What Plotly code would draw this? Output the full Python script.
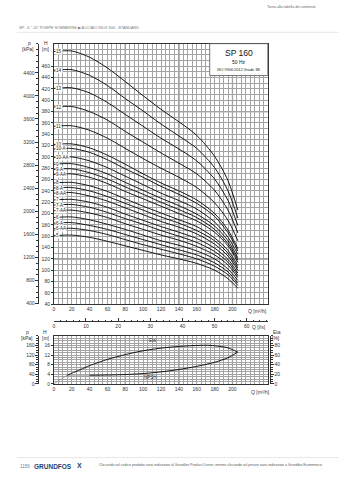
import plotly.graph_objects as go

W, H = 339, 480

# ---------------- data ----------------
q_pts = [0, 20, 40, 60, 80, 100, 120, 140, 160, 180, 195, 206]
curve_labels = ["15", "14", "13", "12", "11", "10", "10-A", "10-AA", "9", "9-A", "9-AA",
                "8", "8-A", "8-AA", "7", "7-A", "7-AA", "6", "6-A", "6-AA", "5"]
h_15 = [486, 487, 476, 457, 433, 408, 384, 362, 338, 301, 258, 206]
h_14 = [453, 454, 444, 426, 403, 381, 358, 337, 315, 281, 240, 192]
h_13 = [421, 422, 413, 396, 375, 354, 333, 314, 293, 261, 223, 179]
h_12 = [388, 389, 380, 365, 345, 326, 307, 289, 270, 241, 206, 166]
h_11 = [354, 355, 347, 333, 315, 297, 280, 264, 246, 219, 188, 152]
h_10 = [322, 323, 316, 303, 287, 270, 254, 240, 224, 200, 171, 138]
h_10a = [314, 315, 308, 295, 279, 264, 248, 234, 218, 195, 166, 134]
h_10aa = [299, 300, 293, 281, 266, 251, 236, 223, 208, 185, 158, 128]
h_9 = [287, 288, 281, 270, 255, 241, 227, 214, 199, 178, 152, 122]
h_9a = [278, 279, 272, 261, 247, 234, 220, 207, 193, 172, 147, 118]
h_9aa = [269, 270, 264, 253, 239, 226, 213, 200, 187, 167, 143, 114]
h_8 = [254, 255, 249, 239, 226, 213, 201, 189, 177, 157, 135, 108]
h_8a = [245, 246, 240, 230, 218, 206, 194, 183, 170, 152, 130, 104]
h_8aa = [236, 237, 231, 222, 210, 198, 186, 176, 164, 146, 125, 100]
h_7 = [224, 225, 220, 211, 199, 188, 177, 167, 156, 139, 119, 95]
h_7a = [215, 216, 211, 202, 191, 181, 170, 160, 149, 133, 114, 91]
h_7aa = [205, 206, 201, 193, 182, 172, 162, 153, 142, 127, 109, 87]
h_6 = [193, 194, 189, 181, 172, 162, 152, 144, 134, 120, 102, 82]
h_6a = [183, 184, 179, 172, 163, 154, 145, 136, 127, 113, 97, 77]
h_6aa = [173, 174, 170, 163, 154, 145, 137, 129, 120, 107, 92, 73]
h_5 = [161, 162, 158, 151, 143, 135, 127, 120, 112, 100, 85, 68]
curves = [h_15, h_14, h_13, h_12, h_11, h_10, h_10a, h_10aa, h_9, h_9a, h_9aa,
          h_8, h_8a, h_8aa, h_7, h_7a, h_7aa, h_6, h_6a, h_6aa, h_5]

q_eta_lead = [0, 15]
eta_lead = [0, 18]
q_eta = [15, 20, 30, 40, 60, 80, 100, 120, 140, 160, 170, 180, 195, 206]
eta = [18, 22, 30, 38, 51, 61, 69, 74.5, 78, 80, 80.5, 79.5, 75, 66]
q_npsh_lead = [15, 40]
npsh_lead = [3.6, 3.6]
q_npsh = [40, 60, 80, 100, 120, 140, 160, 180, 195, 206]
npsh = [3.6, 3.7, 3.9, 4.3, 5.0, 6.0, 7.3, 9.0, 10.9, 13.3]

q_ticks = list(range(0, 201, 20))
h_ticks = list(range(40, 461, 20))
p_ticks = list(range(400, 4401, 400))
ls_ticks = list(range(0, 61, 10))
h2_ticks = [0, 4, 8, 12, 16]
p2_ticks = [0, 40, 80, 120, 160]
eta_ticks = [0, 20, 40, 60, 80]
thick_q = [80, 140, 200]
thick_h = [120, 380]

# ---------------- layout helpers ----------------
def fx(px):
    return px / W

def fy(py):
    return 1 - py / H

X0, X1 = 53, 268
UT, UB = 43.9, 306.1
LT, LB = 338, 386.3
FONT = "Liberation Sans, Arial, sans-serif"
grid = "#a3a3a3"
tf = dict(family=FONT, size=5, color="#333")
axis_line = dict(showline=True, linecolor="#333", linewidth=0.8)

fig = go.Figure()

for lab, hv in zip(curve_labels, curves):
    fig.add_trace(go.Scatter(x=q_pts, y=hv, mode="lines", xaxis="x", yaxis="y",
                             line=dict(color="black", width=0.9, shape="spline", smoothing=0.8),
                             hoverinfo="skip", showlegend=False))
    fig.add_annotation(x=1.5, y=hv[0], xref="x", yref="y", text=lab, showarrow=False,
                       xanchor="left", yanchor="middle", bgcolor="white", borderpad=0,
                       font=dict(family=FONT, size=4.5, color="#222"))

# empty traces so the secondary axes (l/s, kPa) get drawn
for xa, ya in (("x3", "y"), ("x", "y3"), ("x2", "y5")):
    fig.add_trace(go.Scatter(x=[], y=[], xaxis=xa, yaxis=ya, mode="lines",
                             hoverinfo="skip", showlegend=False))

fig.add_trace(go.Scatter(x=q_eta_lead, y=eta_lead, mode="lines", xaxis="x2", yaxis="y6",
                         line=dict(color="#999", width=0.8), hoverinfo="skip", showlegend=False))
fig.add_trace(go.Scatter(x=q_eta, y=eta, mode="lines", xaxis="x2", yaxis="y6",
                         line=dict(color="black", width=0.9, shape="spline", smoothing=0.8),
                         hoverinfo="skip", showlegend=False))
fig.add_trace(go.Scatter(x=q_npsh_lead, y=npsh_lead, mode="lines", xaxis="x2", yaxis="y4",
                         line=dict(color="#aaa", width=1.2), hoverinfo="skip", showlegend=False))
fig.add_trace(go.Scatter(x=q_npsh, y=npsh, mode="lines", xaxis="x2", yaxis="y4",
                         line=dict(color="black", width=0.9, shape="spline", smoothing=0.8),
                         hoverinfo="skip", showlegend=False))

xcommon = dict(domain=[fx(X0), fx(X1)], range=[0, 240], tickmode="array", tickvals=q_ticks,
               ticks="", tickfont=tf, showgrid=True, gridcolor=grid, gridwidth=0.5,
               zeroline=False, mirror=True,
               minor=dict(tickmode="linear", tick0=0, dtick=5, showgrid=True,
                          gridcolor=grid, gridwidth=0.5),
               **axis_line)

fig.update_layout(
    width=W, height=H, margin=dict(l=0, r=0, t=0, b=0),
    paper_bgcolor="white", plot_bgcolor="white", showlegend=False,
    xaxis=dict(anchor="y", **xcommon),
    xaxis2=dict(anchor="y4", **xcommon),
    xaxis3=dict(overlaying="x", anchor="free", position=fy(323), range=[0, 240 / 3.6],
                tickmode="array", tickvals=ls_ticks, ticks="inside", ticklen=3, tickwidth=0.6,
                tickcolor="#333", tickfont=tf, showgrid=False, zeroline=False, side="bottom",
                minor=dict(tickmode="linear", tick0=0, dtick=2, ticks="inside", ticklen=1.5,
                           tickcolor="#333", tickwidth=0.5),
                **axis_line),
    yaxis=dict(domain=[fy(UB), fy(UT)], anchor="x", range=[40, 500], tickmode="array",
               tickvals=h_ticks, ticks="outside", ticklen=2, tickwidth=0.6, tickcolor="#333",
               tickfont=tf, showgrid=True, gridcolor=grid, gridwidth=0.5, zeroline=False,
               mirror=True,
               minor=dict(tickmode="linear", tick0=0, dtick=10, showgrid=True,
                          gridcolor=grid, gridwidth=0.5),
               **axis_line),
    yaxis3=dict(overlaying="y", anchor="free", position=fx(37), side="left",
                range=[40 * 9.81, 500 * 9.81], tickmode="array", tickvals=p_ticks,
                ticks="outside", ticklen=2.5, tickwidth=0.6, tickcolor="#333", tickfont=tf,
                showgrid=False, zeroline=False,
                minor=dict(tickmode="linear", tick0=0, dtick=100, ticks="outside",
                           ticklen=1.5, tickcolor="#333", tickwidth=0.5),
                **axis_line),
    yaxis4=dict(domain=[fy(LB), fy(LT)], anchor="x2", range=[0, 20], tickmode="array",
                tickvals=h2_ticks, ticks="outside", ticklen=2, tickwidth=0.6, tickcolor="#333",
                tickfont=tf, showgrid=True, gridcolor=grid, gridwidth=0.5, zeroline=False,
                mirror=True,
                minor=dict(tickmode="linear", tick0=0, dtick=1, showgrid=True,
                           gridcolor=grid, gridwidth=0.5),
                **axis_line),
    yaxis5=dict(overlaying="y4", anchor="free", position=fx(37), side="left",
                range=[0, 200], tickmode="array", tickvals=p2_ticks, ticks="outside",
                ticklen=2.5, tickwidth=0.6, tickcolor="#333", tickfont=tf, showgrid=False,
                zeroline=False,
                minor=dict(tickmode="linear", tick0=0, dtick=10, ticks="outside",
                           ticklen=1.5, tickcolor="#333", tickwidth=0.5),
                **axis_line),
    yaxis6=dict(overlaying="y4", anchor="free", position=fx(270), side="right",
                range=[0, 100], tickmode="array", tickvals=eta_ticks, ticks="outside",
                ticklen=2.5, tickwidth=0.6, tickcolor="#333", tickfont=tf, showgrid=False,
                zeroline=False,
                minor=dict(tickmode="linear", tick0=0, dtick=5, ticks="outside",
                           ticklen=1.5, tickcolor="#333", tickwidth=0.5),
                **axis_line),
)

# emphasised grid lines (paper coordinates computed from axis values)
shapes = []
def qx(q):
    return fx(X0 + (X1 - X0) * q / 240)

def hy(h):
    return fy(UB - (UB - UT) * (h - 40) / 460)

for q in thick_q:
    shapes.append(dict(type="line", xref="paper", yref="paper", x0=qx(q), x1=qx(q),
                       y0=fy(UB), y1=fy(UT), line=dict(color="#666", width=1.2), layer="below"))
    shapes.append(dict(type="line", xref="paper", yref="paper", x0=qx(q), x1=qx(q),
                       y0=fy(LB), y1=fy(LT), line=dict(color="#666", width=1.2), layer="below"))
for hh in thick_h:
    shapes.append(dict(type="line", xref="paper", yref="paper", x0=fx(X0), x1=fx(X1),
                       y0=hy(hh), y1=hy(hh), line=dict(color="#666", width=1.2), layer="below"))
# SP 160 box
shapes.append(dict(type="rect", xref="paper", yref="paper", x0=fx(209.3), x1=fx(267.6),
                   y0=fy(76), y1=fy(43.9), fillcolor="white",
                   line=dict(color="#555", width=0.8), layer="above"))
# header/footer rules
shapes.append(dict(type="line", xref="paper", yref="paper", x0=fx(16), x1=1, y0=fy(32.5),
                   y1=fy(32.5), line=dict(color="#e0e0e0", width=0.8)))
shapes.append(dict(type="line", xref="paper", yref="paper", x0=fx(16), x1=1, y0=fy(460.5),
                   y1=fy(460.5), line=dict(color="#e0e0e0", width=0.8)))
fig.update_layout(shapes=shapes)


def txt(px, py, s, size=5, color="#333", xanchor="center", **kw):
    fig.add_annotation(x=fx(px), y=fy(py), xref="paper", yref="paper", text=s,
                       showarrow=False, xanchor=xanchor, yanchor="middle",
                       font=dict(family=FONT, size=size, color=color), **kw)


txt(318, 7.5, "Torna alla tabella dei contenuti", size=3.6, color="#666", xanchor="right")
txt(16, 28.5, "SP - 6 \"-10\" POMPE SOMMERSE \u25b6 ACCIAIO INOX 304 - STANDARD", size=3.8,
    color="#777", xanchor="left")

txt(29, 43.5, "p")
txt(27, 49, "[kPa]")
txt(45, 43, "H")
txt(45, 49, "[m]")
txt(27, 334.5, "p")
txt(26, 340, "[kPa]")
txt(44, 334.5, "H")
txt(45, 340, "[m]")
txt(277, 334.5, "Eta")
txt(276, 340, "[%]")
txt(257, 313, "Q [m\u00b3/h]")
txt(259, 329, "Q [l/s]")
txt(260, 394, "Q [m\u00b3/h]")

txt(238.5, 53.5, "SP 160", size=8.5, color="#111")
txt(238.5, 62.5, "50 Hz", size=5, color="#222")
txt(238.5, 70, "ISO 9906:2012 Grade 3B", size=3.8, color="#222")

fig.add_annotation(x=110, y=80, xref="x2", yref="y6", text="Eta", showarrow=False,
                   font=dict(family=FONT, size=4.5, color="#333"), yanchor="bottom")
fig.add_annotation(x=108, y=2.6, xref="x2", yref="y4", text="NPSH", showarrow=False,
                   font=dict(family=FONT, size=4.5, color="#333"))

# footer
txt(17, 469, "1156", size=4.5, color="#5a7fb0", xanchor="left")
txt(31, 469, "<b>GRUNDFOS</b>", size=6.5, color="#1c3f73", xanchor="left")
txt(74, 468.5, "<b>X</b>", size=7, color="#1c3f73", xanchor="left")
txt(96, 467.5, "Cliccando sul codice prodotto sarai indirizzato al Grundfos Product Center, "
    "mentre cliccando sul prezzo sarai indirizzato a Grundfos Ecommerce.", size=3.5,
    color="#555", xanchor="left")

fig.write_html("out.html")
